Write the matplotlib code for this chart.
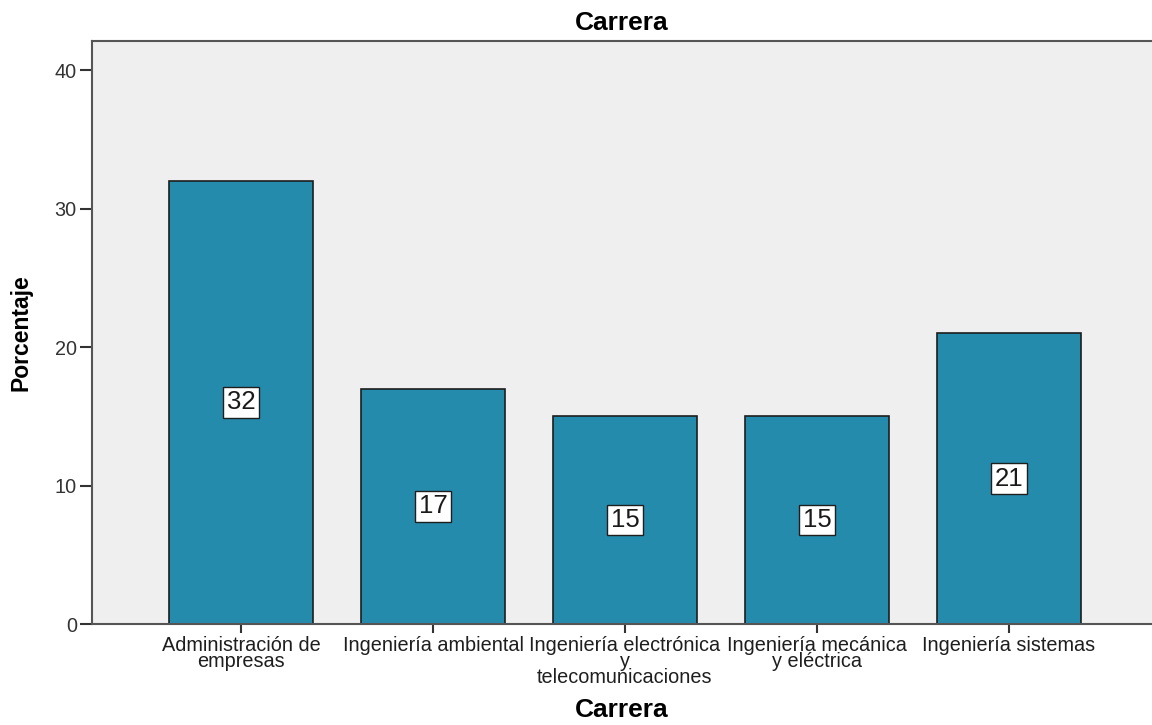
import numpy as np
import matplotlib.pyplot as plt

plt.rcParams['font.family'] = ['Liberation Sans', 'DejaVu Sans']

carreras = [
    'Administración de\nempresas',
    'Ingeniería ambiental',
    'Ingeniería electrónica\ny\ntelecomunicaciones',
    'Ingeniería mecánica\ny eléctrica',
    'Ingeniería sistemas',
]
porcentaje = [32, 17, 15, 15, 21]

bar_color = '#258BAD'
bg_color = '#EFEFEF'

fig = plt.figure(figsize=(11.52, 7.25), dpi=100)
ax = fig.add_axes([0.0799, 0.1393, 0.9201, 0.8041])
ax.set_facecolor(bg_color)

x = np.arange(len(carreras))
bars = ax.bar(x, porcentaje, width=0.75, color=bar_color,
              edgecolor='#1e1e1e', linewidth=1.2, zorder=2)

# value labels in white boxes at half the bar height
for xi, val in zip(x, porcentaje):
    ax.text(xi, val / 2, f'{val}', ha='center', va='center', fontsize=18.5,
            color='#1a1a1a', zorder=3,
            bbox=dict(boxstyle='square,pad=0.13', facecolor='white',
                      edgecolor='#1e1e1e', linewidth=1.0))

ax.set_xlim(-0.776, 4.745)
ax.set_ylim(0, 42.1)
ax.set_yticks([0, 10, 20, 30, 40])
ax.set_xticks(x)
ax.set_xticklabels(carreras, fontsize=14.3, linespacing=0.8, color='#1e1e1e')
ax.tick_params(axis='y', labelsize=14.3, length=9, width=1.5, colors='#333333',
               labelcolor='#333333', pad=2)
ax.tick_params(axis='x', length=6.5, width=1.5, colors='#333333',
               labelcolor='#1e1e1e', pad=2)

for side in ['left', 'bottom', 'top']:
    ax.spines[side].set_color('#555555')
    ax.spines[side].set_linewidth(1.5)
ax.spines['right'].set_visible(False)

ax.set_title('Carrera', fontsize=19, fontweight='bold', pad=8)
ax.set_xlabel('Carrera', fontsize=19, fontweight='bold', labelpad=8)
ax.set_ylabel('Porcentaje', fontsize=16.5, fontweight='bold', labelpad=16)

fig.savefig('out.png', dpi=100)
